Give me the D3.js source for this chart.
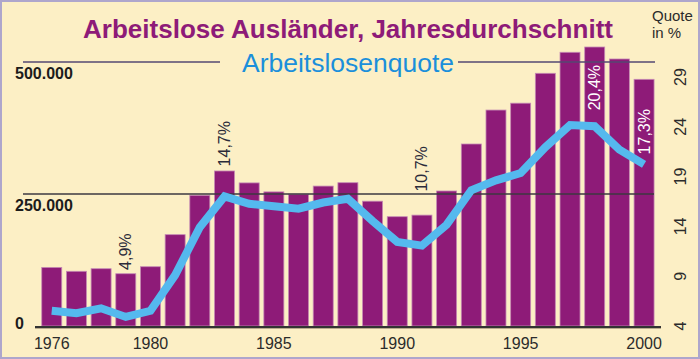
<!DOCTYPE html>
<html>
<head>
<meta charset="utf-8">
<script src="https://cdn.jsdelivr.net/npm/d3@7"></script>
<style>
  html, body { margin: 0; padding: 0; background: #fff; }
  svg { display: block; font-family: "Liberation Sans", Arial, Helvetica, sans-serif; }
</style>
</head>
<body>
<svg id="chart" width="700" height="359"></svg>
<script>
// ---- data ----
const years = [1976, 1977, 1978, 1979, 1980, 1981, 1982, 1983, 1984, 1985, 1986, 1987, 1988,
               1989, 1990, 1991, 1992, 1993, 1994, 1995, 1996, 1997, 1998, 1999, 2000];
const unemployed = [111000, 103600, 108500, 99000, 112300, 173000, 247500, 293600, 271000,
                    254000, 249600, 265000, 271400, 236400, 207000, 210000, 255700, 344700,
                    409000, 422000, 478600, 518400, 528400, 505700, 467200];
const quote = [5.4, 5.2, 5.6, 4.9, 5.4, 8.3, 12.2, 14.7, 14.1, 13.9, 13.7, 14.2, 14.5,
               12.7, 11.0, 10.7, 12.4, 15.2, 16.0, 16.6, 18.7, 20.5, 20.4, 18.5, 17.3];
const labelYears = [1979, 1983, 1991, 1998, 2000];
const yearTicks = [1976, 1980, 1985, 1990, 1995, 2000];
const leftTicks = [0, 250000, 500000];
const rightTicks = [4, 9, 14, 19, 24, 29];
const titleText = "Arbeitslose Ausländer, Jahresdurchschnitt";
const subtitleText = "Arbeitslosenquote";
const unitText = ["Quote", "in %"];

// ---- layout ----
const W = 700, H = 359;
const baseY = 326;
const svg = d3.select("#chart");
const de = d3.formatLocale({decimal: ",", thousands: ".", grouping: [3], currency: ["", " €"]});
const fmtInt = de.format(",");
const fmtPct = v => de.format(".1f")(v) + "%";

// background & border
svg.append("rect").attr("x", 1).attr("y", 1).attr("width", W - 2).attr("height", H - 2)
  .attr("fill", "#fcefc5").attr("stroke", "#aea6cc").attr("stroke-width", 2);

const x = d3.scaleBand().domain(years).range([39.4, 656.4]).paddingInner(0.19).paddingOuter(0.095);
const yBar = d3.scaleLinear().domain([0, 500000]).range([baseY, 62]);
const yQuote = d3.scaleLinear().domain([4, 29]).range([328, 20.5]);
const yQuoteAxis = d3.scaleLinear().domain([4, 29]).range([326, 77]);

const barData = years.map((y, i) => ({year: y, value: unemployed[i], q: quote[i]}));

// bars
svg.append("g").selectAll("rect").data(barData).join("rect")
  .attr("x", d => x(d.year))
  .attr("y", d => yBar(d.value))
  .attr("width", x.bandwidth())
  .attr("height", d => baseY - yBar(d.value))
  .attr("fill", "#8e1b78")
  .attr("stroke", "#c58ab4")
  .attr("stroke-width", 0.8);

// title
const title = svg.append("text").attr("x", 83).attr("y", 38)
  .attr("font-size", 26).attr("font-weight", "bold").attr("fill", "#8e1b78")
  .attr("textLength", 530).attr("lengthAdjust", "spacingAndGlyphs")
  .text(titleText);

const sub = svg.append("text").attr("x", 242).attr("y", 72)
  .attr("font-size", 26).attr("fill", "#1b8fdb")
  .attr("textLength", 212).attr("lengthAdjust", "spacingAndGlyphs")
  .text(subtitleText);

// gridlines
const g500 = yBar(500000), g250 = yBar(250000);
svg.append("line").attr("x1", 23).attr("x2", 220).attr("y1", g500).attr("y2", g500)
  .attr("stroke", "#544872").attr("stroke-width", 1.3);
svg.append("line").attr("x1", 458).attr("x2", 655).attr("y1", g500).attr("y2", g500)
  .attr("stroke", "#544872").attr("stroke-width", 1.3);
svg.append("line").attr("x1", 23).attr("x2", 654).attr("y1", g250).attr("y2", g250)
  .attr("stroke", "#3d3840").attr("stroke-width", 1.3);

// bottom axis line
svg.append("line").attr("x1", 35).attr("x2", 661).attr("y1", baseY + 1).attr("y2", baseY + 1)
  .attr("stroke", "#333", ).attr("stroke-width", 2);
svg.append("line").attr("x1", 35).attr("x2", 661).attr("y1", baseY + 2.5).attr("y2", baseY + 2.5)
  .attr("stroke", "#b9ab8c").attr("stroke-width", 1);

// quote line
const line = d3.line().x(d => x(d.year) + x.bandwidth() / 2).y(d => yQuote(d.q));
svg.append("path").datum(barData).attr("d", line)
  .attr("fill", "none").attr("stroke", "#55b9ee").attr("stroke-width", 8)
  .attr("stroke-linejoin", "miter").attr("stroke-linecap", "butt");

// left tick labels
svg.append("g").selectAll("text").data(leftTicks).join("text")
  .attr("x", 15)
  .attr("y", d => d === 0 ? yBar(d) + 3 : yBar(d) + 17)
  .attr("font-size", 16).attr("font-weight", "bold").attr("fill", "#1c1c1c")
  .text(d => fmtInt(d));

// bottom year labels
svg.append("g").selectAll("text").data(yearTicks).join("text")
  .attr("x", d => x(d) + x.bandwidth() / 2)
  .attr("y", 349)
  .attr("text-anchor", "middle")
  .attr("font-size", 16).attr("fill", "#2b2b2b")
  .text(d => d);

// right axis labels (rotated)
svg.append("g").selectAll("text").data(rightTicks).join("text")
  .attr("transform", d => `translate(680,${yQuoteAxis(d)}) rotate(-90)`)
  .attr("text-anchor", "middle").attr("dominant-baseline", "central")
  .attr("font-size", 16).attr("fill", "#2b2b2b")
  .text(d => d);

// unit label
svg.append("g").selectAll("text").data(unitText).join("text")
  .attr("x", 652).attr("y", (d, i) => 21 + i * 17)
  .attr("font-size", 15).attr("fill", "#2b2b2b")
  .text(d => d);

// value annotations (rotated)
const labelOffset = {1979: 47, 1983: 30, 1991: 54, 1998: 16, 2000: 10};
const ann = barData.filter(d => labelYears.includes(d.year));
svg.append("g").selectAll("text").data(ann).join("text")
  .attr("transform", d => `translate(${x(d.year) + x.bandwidth() / 2},${yQuote(d.q) - labelOffset[d.year]}) rotate(-90)`)
  .attr("text-anchor", "start").attr("dominant-baseline", "central")
  .attr("font-size", 16)
  .attr("fill", d => (yQuote(d.q) - labelOffset[d.year]) > yBar(d.value) ? "#ffffff" : "#2b2b3a")
  .text(d => fmtPct(d.q));
</script>
</body>
</html>
